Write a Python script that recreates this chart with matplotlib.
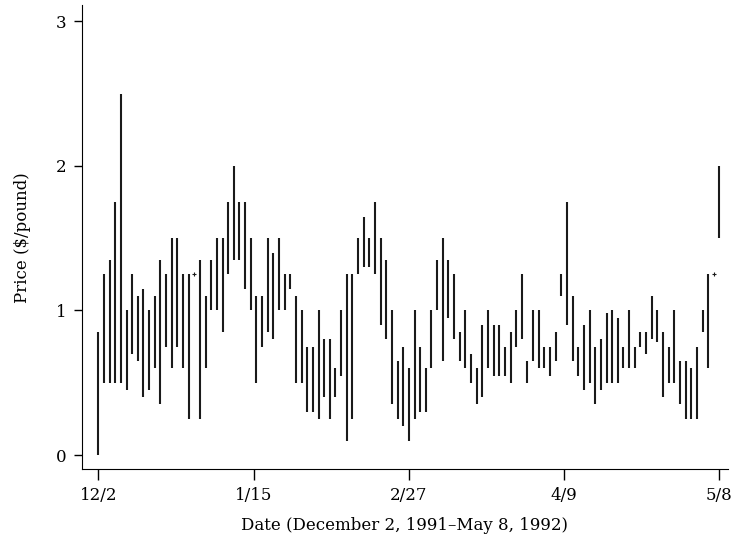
import matplotlib
matplotlib.use("Agg")
import matplotlib.pyplot as plt
import numpy as np

# daily low / high price, one entry per trading day, 12/2/1991 - 5/8/1992
low = [0.00, 0.50, 0.50, 0.50, 0.50, 0.45, 0.70, 0.65, 0.40, 0.45,
       0.60, 0.35, 0.75, 0.60, 0.75, 0.60, 0.25, 1.25, 0.25, 0.60,
       1.00, 1.00, 0.85, 1.25, 1.35, 1.35, 1.15, 1.00, 0.50, 0.75,
       0.85, 0.80, 1.00, 1.00, 1.15, 0.50, 0.50, 0.30, 0.30, 0.25,
       0.40, 0.25, 0.40, 0.55, 0.10, 0.25, 1.25, 1.30, 1.30, 1.25,
       0.90, 0.80, 0.35, 0.25, 0.20, 0.10, 0.25, 0.30, 0.30, 0.60,
       1.00, 0.65, 0.95, 0.80, 0.65, 0.60, 0.50, 0.35, 0.40, 0.60,
       0.55, 0.55, 0.55, 0.50, 0.75, 0.80, 0.50, 0.65, 0.60, 0.60,
       0.55, 0.65, 1.10, 0.90, 0.65, 0.55, 0.45, 0.50, 0.35, 0.45,
       0.50, 0.50, 0.50, 0.60, 0.60, 0.60, 0.75, 0.70, 0.80, 0.78,
       0.40, 0.50, 0.50, 0.35, 0.25, 0.25, 0.25, 0.85, 0.60, 1.25,
       1.50]
high = [0.85, 1.25, 1.35, 1.75, 2.50, 1.00, 1.25, 1.10, 1.15, 1.00,
        1.10, 1.35, 1.25, 1.50, 1.50, 1.25, 1.25, 1.25, 1.35, 1.10,
        1.35, 1.50, 1.50, 1.75, 2.00, 1.75, 1.75, 1.50, 1.10, 1.10,
        1.50, 1.40, 1.50, 1.25, 1.25, 1.10, 1.00, 0.75, 0.75, 1.00,
        0.80, 0.80, 0.60, 1.00, 1.25, 1.25, 1.50, 1.65, 1.50, 1.75,
        1.50, 1.35, 1.00, 0.65, 0.75, 0.60, 1.00, 0.75, 0.60, 1.00,
        1.35, 1.50, 1.35, 1.25, 0.85, 1.00, 0.70, 0.60, 0.90, 1.00,
        0.90, 0.90, 0.75, 0.85, 1.00, 1.25, 0.65, 1.00, 1.00, 0.75,
        0.75, 0.85, 1.25, 1.75, 1.10, 0.75, 0.90, 1.00, 0.75, 0.80,
        0.98, 1.00, 0.95, 0.75, 1.00, 0.75, 0.85, 0.85, 1.10, 1.00,
        0.85, 0.75, 1.00, 0.65, 0.65, 0.60, 0.75, 1.00, 1.25, 1.25,
        2.00]
tick_labels = ["12/2", "1/15", "2/27", "4/9", "5/8"]

low = np.array(low)
high = np.array(high)
day = np.arange(len(low))

plt.rcParams["font.family"] = "DejaVu Serif"
fig = plt.figure(figsize=(7.38, 5.5), dpi=100)
ax = fig.add_axes([0.1107, 0.1467, 0.8757, 0.8443])

# days with a single price get a small mark instead of a line
same = low == high
ax.vlines(day[~same], low[~same], high[~same], color="#1a1a1a", linewidth=1.5)
ax.plot(day[same], high[same], "+", color="#1a1a1a", markersize=3, markeredgewidth=0.8)

ax.set_xlim(-2.94, 111.5)
ax.set_ylim(-0.099, 3.114)
ax.set_yticks([0, 1, 2, 3])
ax.set_xticks(np.linspace(0, len(low) - 1, len(tick_labels)))
ax.set_xticklabels(tick_labels)
ax.spines["top"].set_visible(False)
ax.spines["right"].set_visible(False)
ax.tick_params(axis="x", length=8, width=1, labelsize=12, pad=5)
ax.tick_params(axis="y", length=6, width=1, labelsize=12, pad=5)
ax.set_xlabel("Date (December 2, 1991\u2013May 8, 1992)", fontsize=12, labelpad=9)
ax.set_ylabel("Price (\\$/pound)", fontsize=12, labelpad=18)

plt.savefig("out.png", dpi=100)
